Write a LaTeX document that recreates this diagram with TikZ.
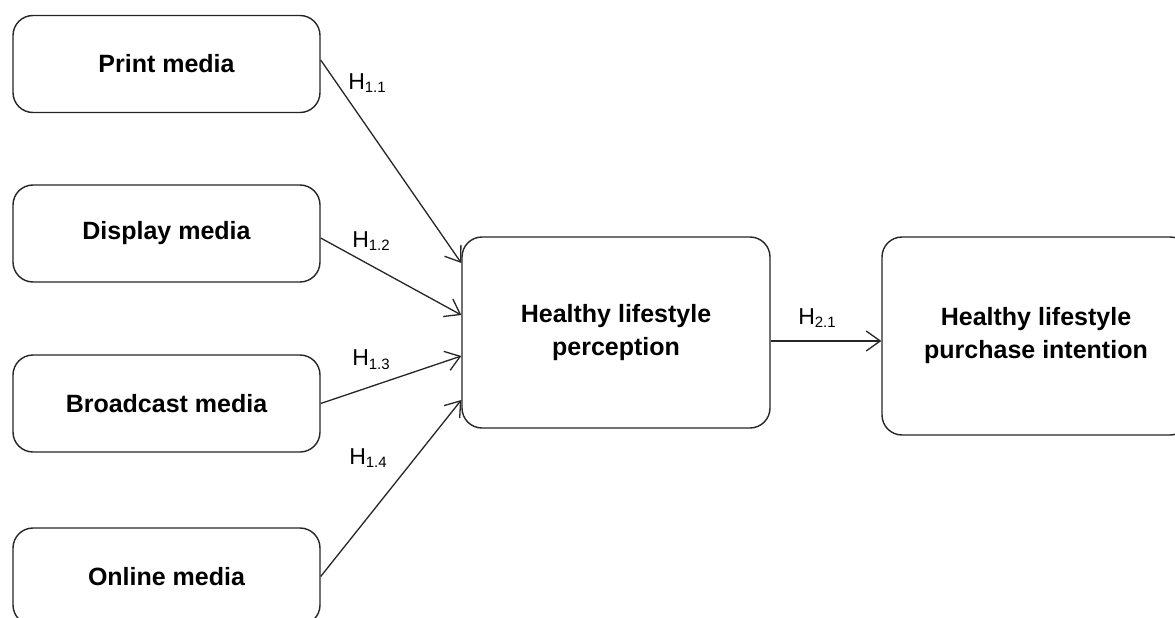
\documentclass[tikz,border=0pt]{standalone}
\usepackage{fontspec}
\setmainfont{Liberation Sans}
\usetikzlibrary{arrows.meta,calc}
\tikzset{
  box/.style={draw=black!85, line width=1.4pt, rounded corners=20pt, fill=white,
    font=\fontsize{25}{33}\selectfont\bfseries, align=center, inner sep=0pt},
  srcbox/.style={box, minimum width=307pt, minimum height=97pt},
  bigbox/.style={box, minimum width=308pt},
  link/.style={draw=black!85, line width=1.3pt, -{Straight Barb[length=14pt,width=20pt,line width=1.3pt]}},
  hlab/.style={font=\fontsize{23}{26}\selectfont, inner sep=0pt}
}
\newcommand{\hsub}[1]{H{\fontsize{15}{16}\selectfont\raisebox{-0.25em}{#1}}}
\begin{document}
\begin{tikzpicture}[x=1pt,y=-1pt]
\useasboundingbox (0,0) rectangle (1175,618);
\clip (0,0) rectangle (1175,618);
\fill[white] (0,0) rectangle (1175,618);
\node[srcbox] (print) at (166.5,64) {Print media};
\node[srcbox] (display) at (166.5,233.5) {Display media};
\node[srcbox] (broad) at (166.5,403.5) {Broadcast media};
\node[srcbox] (online) at (166.5,576.5) {Online media};
\node[bigbox, minimum height=191pt] (perc) at (616,332.5) {Healthy lifestyle\\perception};
\node[bigbox, minimum height=198pt] (purch) at (1036,336) {Healthy lifestyle\\purchase intention};
\coordinate (e1) at ($(perc.west)+(0,-69.5)$);
\coordinate (e2) at ($(perc.west)+(0,-17.5)$);
\coordinate (e3) at ($(perc.west)+(0,23.5)$);
\coordinate (e4) at ($(perc.west)+(0,67.5)$);
\draw[link] ($(print.east)+(0,-4)$) -- (e1);
\draw[link] ($(display.east)+(0,4.5)$) -- (e2);
\draw[link] (broad.east) -- (e3);
\draw[link] (online.east) -- (e4);
\draw[link] ($(perc.east)+(0,8.5)$) -- ($(purch.west)+(0,5)$);
\node[hlab] (h11) at (367,83) {\hsub{1.1}};
\node[hlab] (h12) at (371,241) {\hsub{1.2}};
\node[hlab] (h13) at (371,360) {\hsub{1.3}};
\node[hlab] (h14) at (368,458) {\hsub{1.4}};
\node[hlab] (h21) at (817,318) {\hsub{2.1}};
\end{tikzpicture}
\end{document}
